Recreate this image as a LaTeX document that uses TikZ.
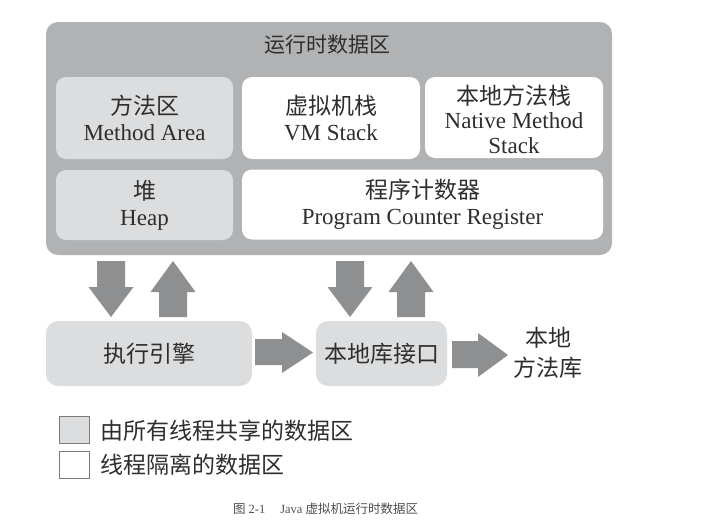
\documentclass[tikz,border=0pt]{standalone}
\usepackage{fontspec}
\setmainfont{Liberation Serif}
\newfontfamily\cjk{Noto Sans CJK SC}
\definecolor{outergray}{HTML}{B1B2B4}
\definecolor{lightbox}{HTML}{DCDDDE}
\definecolor{arrowgray}{HTML}{8E8F91}
\definecolor{txt}{HTML}{2E2E2E}
\definecolor{legendline}{HTML}{7A7A7A}
\begin{document}
\begin{tikzpicture}[x=1pt,y=-1pt,
  every node/.style={text=txt, inner sep=0pt, outer sep=0pt},
  region/.style={rounded corners=10pt, align=center, font=\fontsize{23}{26}\selectfont},
  shared/.style={region, fill=lightbox},
  private/.style={region, fill=white},
  blk/.style={fill=arrowgray, draw=none},
  legendbox/.style={draw=legendline, line width=1.4pt, minimum width=30pt, minimum height=27pt},
  legendtext/.style={anchor=west, font=\cjk\fontsize{23}{26}\selectfont}
]
\useasboundingbox (0,0) rectangle (707,525);
\fill[white] (0,0) rectangle (707,525);

% outer runtime data area
\node[fill=outergray, rounded corners=12pt, minimum width=566pt, minimum height=233pt] (rt) at (329,138.5) {};
\node[font=\cjk\fontsize{21}{24}\selectfont] (title) at (327,45) {运行时数据区};

% inner regions
\node[shared, minimum width=177pt, minimum height=82pt] (ma) at (144.5,118) {{\cjk 方法区}\\Method Area};
\node[private, minimum width=178pt, minimum height=82pt] (vm) at (331,118) {{\cjk 虚拟机栈}\\VM Stack};
\node[private, minimum width=178pt, minimum height=81pt] (nm) at (514,117.5) {};
\node[align=center, font=\fontsize{23}{24.5}\selectfont] (nmt) at (514,119) {{\cjk 本地方法栈}\\Native Method\\Stack};
\node[shared, minimum width=177pt, minimum height=70pt] (heap) at (144.5,205) {{\cjk 堆}\\Heap};
\node[private, minimum width=361pt, minimum height=70pt] (pc) at (422.5,204.5) {{\cjk 程序计数器}\\Program Counter Register};

% lower components
\node[shared, rounded corners=12pt, minimum width=206pt, minimum height=65pt, font=\cjk\fontsize{23}{26}\selectfont] (ee) at (149,353.5) {执行引擎};
\node[shared, rounded corners=12pt, minimum width=131pt, minimum height=65pt, font=\cjk\fontsize{23}{26}\selectfont] (nli) at (381.5,353.5) {本地库接口};
\node[align=center, font=\cjk\fontsize{23}{30}\selectfont] (nml) at (548,353) {本地\\方法库};

% block arrows: down (rt -> ee), up (ee -> rt)
\fill[blk] (97,261) -- (125,261) -- (125,287) -- (133.5,287) -- (111,317) -- (88.5,287) -- (97,287) -- cycle;
\fill[blk] (159,317) -- (187,317) -- (187,292) -- (195.5,292) -- (173,261) -- (150.5,292) -- (159,292) -- cycle;
% down (rt -> nli), up (nli -> rt)
\fill[blk] (336,261) -- (364,261) -- (364,287) -- (372.5,287) -- (350,317) -- (327.5,287) -- (336,287) -- cycle;
\fill[blk] (397,317) -- (425,317) -- (425,292) -- (433.5,292) -- (411,261) -- (388.5,292) -- (397,292) -- cycle;
% right (ee -> nli)
\fill[blk] (255,339) -- (282,339) -- (282,332) -- (313,352.5) -- (282,373) -- (282,365) -- (255,365) -- cycle;
% right (nli -> native libs)
\fill[blk] (452,341) -- (478,341) -- (478,333) -- (508,355) -- (478,377) -- (478,368) -- (452,368) -- cycle;

% legend
\node[legendbox, fill=lightbox] (lg1) at (74.5,430) {};
\node[legendtext] (lt1) at (100,431) {由所有线程共享的数据区};
\node[legendbox, fill=white] (lg2) at (74.5,465) {};
\node[legendtext] (lt2) at (100,465) {线程隔离的数据区};

% caption
\node[anchor=west, text=txt!85, font=\fontsize{12.5}{14}\selectfont] (cap) at (233,509) {{\cjk 图} 2-1\hspace{1.2em}Java {\cjk 虚拟机运行时数据区}};
\end{tikzpicture}
\end{document}
